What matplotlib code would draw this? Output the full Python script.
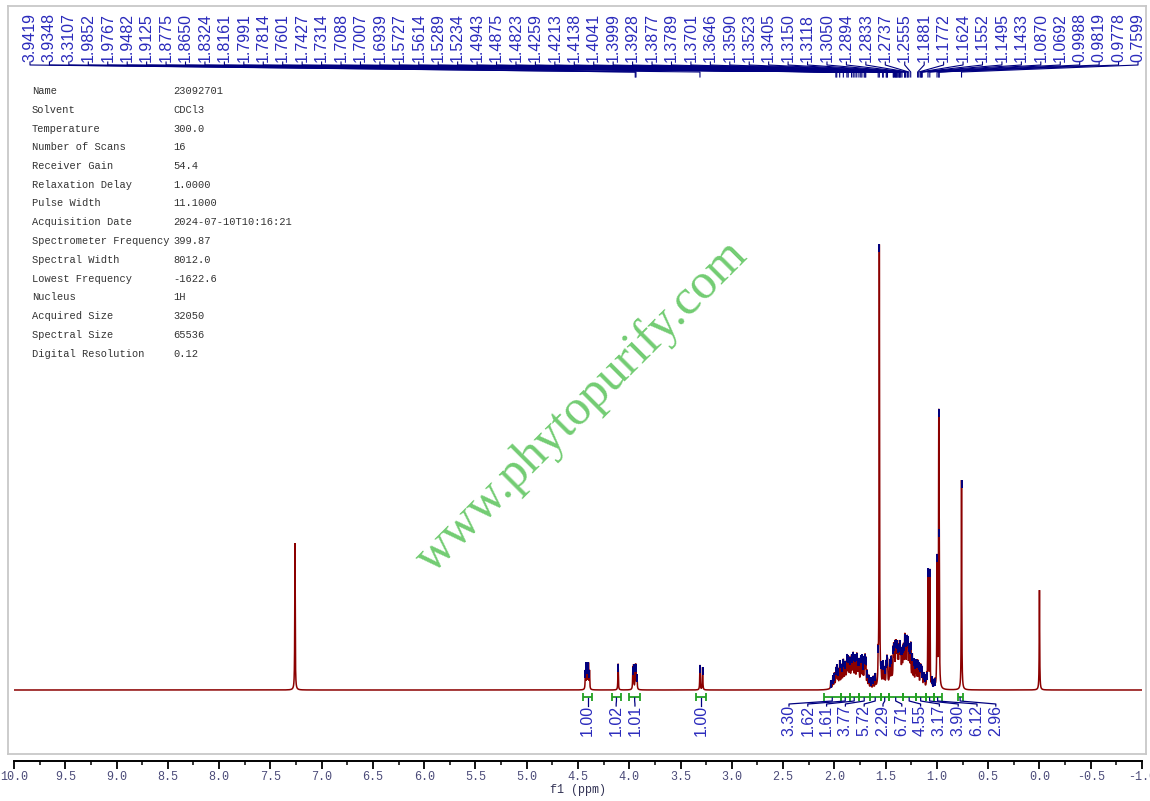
import numpy as np
import matplotlib
matplotlib.use("Agg")
import matplotlib.pyplot as plt

plt.rcParams['axes.unicode_minus'] = False

# --- acquisition parameters (table in the top left) ---
param_names = ["Name", "Solvent", "Temperature", "Number of Scans", "Receiver Gain",
               "Relaxation Delay", "Pulse Width", "Acquisition Date",
               "Spectrometer Frequency", "Spectral Width", "Lowest Frequency",
               "Nucleus", "Acquired Size", "Spectral Size", "Digital Resolution"]
param_values = ["23092701", "CDCl3", "300.0", "16", "54.4", "1.0000", "11.1000",
                "2024-07-10T10:16:21", "399.87", "8012.0", "-1622.6", "1H",
                "32050", "65536", "0.12"]

# --- picked peaks (labelled at the top), ppm and relative height ---
label_ppm = [3.9419, 3.9348, 3.3107,
             1.9852, 1.9767, 1.9482, 1.9125, 1.8775, 1.8650, 1.8324, 1.8161,
             1.7991, 1.7814, 1.7601, 1.7427, 1.7314, 1.7088, 1.7007, 1.6939,
             1.5727, 1.5614, 1.5289, 1.5234, 1.4943, 1.4875, 1.4823,
             1.4259, 1.4213, 1.4138, 1.4041, 1.3999, 1.3928, 1.3877, 1.3789,
             1.3701, 1.3646, 1.3590, 1.3523, 1.3405,
             1.3150, 1.3118, 1.3050, 1.2894, 1.2833, 1.2737, 1.2555,
             1.1881, 1.1772, 1.1624, 1.1552, 1.1495, 1.1433,
             1.0870, 1.0692, 0.9988, 0.9819, 0.9778, 0.7599]
label_height = [0.050, 0.050, 0.055,
                0.038, 0.042, 0.050, 0.046, 0.050, 0.046, 0.046, 0.042,
                0.050, 0.055, 0.046, 0.055, 0.058, 0.055, 0.058, 0.055,
                0.050, 0.980, 0.040, 0.045, 0.045, 0.050, 0.045,
                0.055, 0.058, 0.062, 0.058, 0.055, 0.055, 0.058, 0.055,
                0.050, 0.055, 0.050, 0.048, 0.052,
                0.055, 0.058, 0.062, 0.066, 0.070, 0.062, 0.075,
                0.050, 0.046, 0.042, 0.038, 0.034, 0.030,
                0.260, 0.260, 0.285, 0.560, 0.200, 0.465]

# --- other multiplet lines, not labelled ---
extra_ppm = [4.428, 4.418, 4.408, 4.398, 4.388, 4.109, 3.965, 3.958, 3.925, 3.285,
             2.035, 2.015, 2.000, 1.965, 1.930, 1.895, 1.850, 1.820, 1.770, 1.720,
             1.680, 1.665, 1.645, 1.620, 1.600, 1.545, 1.510, 1.460, 1.445,
             1.330, 1.325, 1.295, 1.265, 1.240, 1.225, 1.210, 1.200,
             1.130, 1.120, 1.100, 1.050, 1.035, 1.020]
extra_height = [0.040, 0.055, 0.045, 0.055, 0.040, 0.058, 0.045, 0.050, 0.030, 0.050,
                0.018, 0.026, 0.030, 0.034, 0.038, 0.038, 0.042, 0.038, 0.042, 0.042,
                0.034, 0.026, 0.022, 0.026, 0.030, 0.034, 0.038, 0.048, 0.052,
                0.048, 0.052, 0.064, 0.060, 0.056, 0.048, 0.044, 0.048,
                0.030, 0.026, 0.026, 0.022, 0.018, 0.018]

# --- solvent (CHCl3) and TMS ---
ref_ppm = [7.26, 0.0]
ref_height = [0.325, 0.221]

# --- broad envelopes under the aliphatic multiplets ---
hump_ppm = [1.84, 1.34]
hump_height = [0.028, 0.032]
hump_sigma = [0.09, 0.10]

# --- integrals ---
int_from = [4.45, 4.17, 4.00, 3.35, 2.103, 1.938, 1.850, 1.763, 1.655, 1.548,
            1.470, 1.334, 1.207, 1.110, 1.032, 0.798]
int_to = [4.36, 4.08, 3.895, 3.25, 1.938, 1.850, 1.763, 1.655, 1.548, 1.470,
          1.334, 1.207, 1.110, 1.032, 0.954, 0.750]
int_values = ["1.00", "1.02", "1.01", "1.00", "3.30", "1.62", "1.61", "3.77",
              "5.72", "2.29", "6.71", "4.55", "3.17", "3.90", "6.12", "2.96"]

W, H = 1150, 801
RED = '#8b0000'
NAVY = '#000080'
BLUE = '#2a2abc'
GREEN = '#22a022'


def fx(px):
    return px / W


def fy(py):
    return 1 - py / H


fig = plt.figure(figsize=(W / 100, H / 100), dpi=100)

# gray frame
frame = fig.add_axes([fx(8), fy(754), fx(1146) - fx(8), fy(6) - fy(754)])
frame.set_xticks([])
frame.set_yticks([])
for s in frame.spines.values():
    s.set_color('#c8c8c8')
    s.set_linewidth(1.3)
frame.set_zorder(0)

# spectrum axes
X0, X1 = 14, 1142
BASE_PY, SCALE = 690, 452
PX_PER_PPM = (X1 - X0) / 11.0

ax = fig.add_axes([fx(X0), fy(761), fx(X1) - fx(X0), fy(6) - fy(761)])
ax.patch.set_alpha(0)
ax.set_zorder(1)
ax.set_xlim(10, -1)
ax.set_ylim((BASE_PY - 761) / SCALE, (BASE_PY - 6) / SCALE)


def yd(py):
    return (BASE_PY - py) / SCALE


def xd(px):
    return 10 - (px - X0) / PX_PER_PPM


def lorentz(x, x0, h, w=0.0025):
    return h / (1 + ((x - x0) / w) ** 2)


grid = np.linspace(10.0, -1.0, 44001)


def spectrum(x):
    y = np.zeros_like(np.asarray(x, dtype=float))
    for p, h in zip(label_ppm + extra_ppm + ref_ppm, label_height + extra_height + ref_height):
        y = y + lorentz(x, p, h)
    for p, h, s in zip(hump_ppm, hump_height, hump_sigma):
        y = y + h * np.exp(-(np.asarray(x) - p) ** 2 / (2 * s * s))
    return y


spec = spectrum(grid)
ax.plot(grid, spec, color=RED, lw=1.1, zorder=3, solid_joinstyle='miter')

# blue peak-pick tips
tip_ppm = np.array(label_ppm + extra_ppm)
tip_top = spectrum(tip_ppm)
ax.vlines(tip_ppm, tip_top - 0.018, tip_top, color=NAVY, lw=1.4, zorder=4)

# top peak labels with leader lines
lab_x = np.linspace(xd(30), xd(1138), len(label_ppm))
for lx, p in zip(lab_x, label_ppm):
    ax.text(lx, yd(62), "%.4f" % p, rotation=90, ha='center', va='bottom',
            fontsize=11.5, family='Liberation Sans', color=BLUE, clip_on=False)
    ax.plot([lx, lx, p, p], [yd(62), yd(65), yd(72), yd(77)], color=NAVY,
            lw=0.8, clip_on=False, zorder=2)


# integral labels, spread so they do not overlap
def spread(centers, gap):
    groups = [[c] for c in centers]
    means = list(centers)

    def positions(g, m):
        n = len(g)
        return [m - (n - 1) / 2 * gap + k * gap for k in range(n)]

    merged = True
    while merged:
        merged = False
        for i in range(len(groups) - 1):
            if positions(groups[i], means[i])[-1] + gap > positions(groups[i + 1], means[i + 1])[0]:
                groups[i] = groups[i] + groups[i + 1]
                means[i] = np.mean(groups[i])
                del groups[i + 1]
                del means[i + 1]
                merged = True
                break
    out = []
    for g, m in zip(groups, means):
        out += positions(g, m)
    return out


centers_px = [X0 + (10 - (a + b) / 2) * PX_PER_PPM for a, b in zip(int_from, int_to)]
label_px = spread(centers_px, 18.8)

for a, b, v, cp, lp in zip(int_from, int_to, int_values, centers_px, label_px):
    ax.hlines(yd(697), a, b, color=GREEN, lw=1.3, zorder=4, clip_on=False)
    ax.vlines([a, b], yd(701), yd(693), color=GREEN, lw=1.3, zorder=4, clip_on=False)
    c, l = xd(cp), xd(lp)
    ax.plot([c, c, l, l], [yd(698), yd(701), yd(704), yd(706)], color=NAVY,
            lw=0.9, clip_on=False, zorder=4)
    ax.text(l, yd(705), v, rotation=90, ha='center', va='top', fontsize=11.5,
            family='Liberation Sans', color=BLUE, clip_on=False)

# x axis
for side in ['top', 'left', 'right']:
    ax.spines[side].set_visible(False)
ax.spines['bottom'].set_linewidth(1.4)
ax.set_yticks([])
ticks = np.arange(10.0, -1.01, -0.5)
ax.set_xticks(ticks)
ax.set_xticklabels(["%.1f" % t for t in ticks])
ax.set_xticks(np.arange(9.75, -1.0, -0.5), minor=True)
ax.tick_params(axis='x', which='major', direction='out', length=6, width=1.3,
               labelsize=8.5, labelcolor='#4a4a78', pad=1)
ax.tick_params(axis='x', which='minor', direction='out', length=3, width=1.1)
for t in ax.get_xticklabels():
    t.set_family('Liberation Mono')
ax.set_xlabel('f1 (ppm)', fontsize=8.5, family='Liberation Mono', color='#333355',
              labelpad=1)

# parameter table
for i, (n, v) in enumerate(zip(param_names, param_values)):
    y = 91 + i * 18.75
    fig.text(fx(32), fy(y), n, fontsize=7.5, family='Liberation Mono', color='#333333',
             va='center', ha='left')
    fig.text(fx(173), fy(y), v, fontsize=7.5, family='Liberation Mono', color='#333333',
             va='center', ha='left')

# watermark
fig.text(fx(582), fy(407), 'www.phytopurify.com', rotation=45, rotation_mode='anchor',
         ha='center', va='center', fontsize=36, family='Liberation Serif',
         color='#72cc72', zorder=5)

fig.savefig('out.png', dpi=100)
